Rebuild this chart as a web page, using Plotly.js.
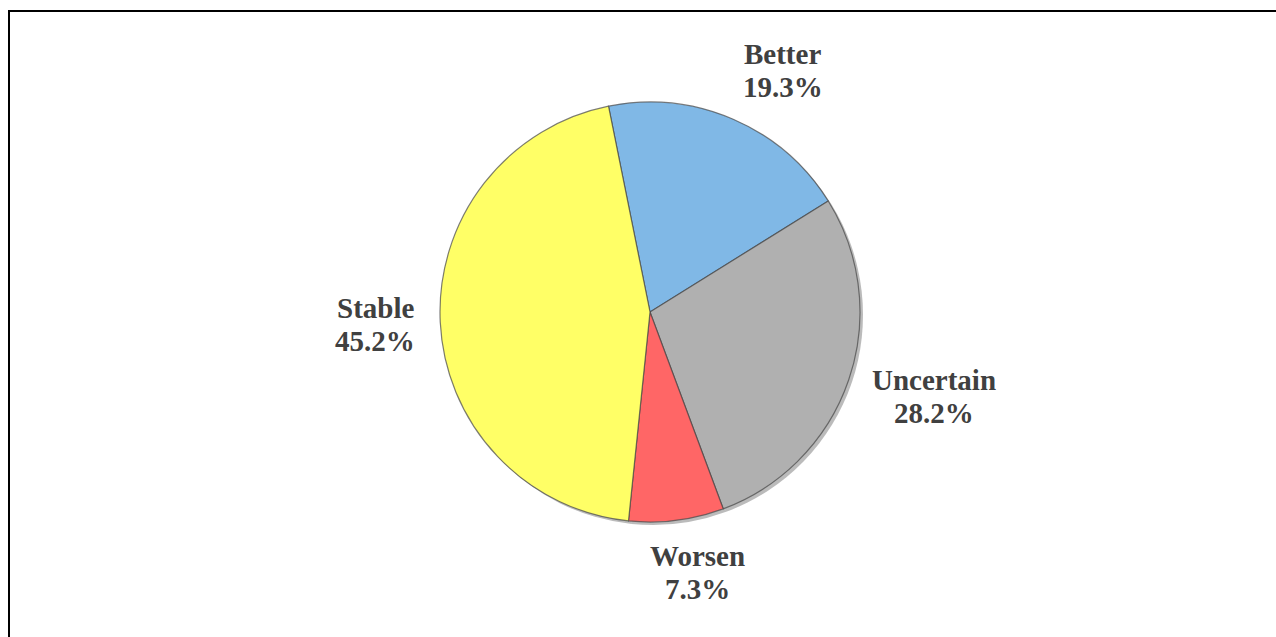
<!DOCTYPE html>
<html>
<head>
<meta charset="utf-8">
<script src="https://cdn.plot.ly/plotly-3.0.1.min.js"></script>
<style>
  html, body { margin: 0; padding: 0; background: #ffffff; overflow: hidden; }
  #wrap { position: relative; width: 1276px; height: 637px; }
  #chart { position: absolute; left: 0; top: 0; width: 1276px; height: 637px; }
  #frame { position: absolute; left: 8px; top: 10px; width: 1400px; height: 800px;
           border-left: 2px solid #000; border-top: 2px solid #000; pointer-events: none; }
</style>
</head>
<body>
<div id="wrap">
  <div id="chart"></div>
  <div id="frame"></div>
</div>
<script>
// Outlook shares (percent)
const categories = ['Better', 'Uncertain', 'Worsen', 'Stable'];
const shares = [19.3, 28.2, 7.3, 45.2];
const sliceColors = ['#80B8E6', '#B0B0B0', '#FF6666', '#FFFF66'];

// Layout geometry
const W = 1276, H = 637;
const margin = { l: 0, r: 0, t: 102, b: 112, pad: 0 };
const pieCenterX = 650, pieRadius = 210;
const shadowShift = 3;             // px offset of the drop shadow
const startAngle = -11.4;          // first slice begins just left of 12 o'clock
const labelFont = { family: 'Liberation Serif, Times New Roman, serif', size: 29, color: '#404040' };
const lineGap = 33;                // distance between the two lines of a label
const gapX = 25, gapY = 20;        // clearance between pie rim and label box

const plotW = W - margin.l - margin.r;
const plotH = H - margin.t - margin.b;
const domainX = [(pieCenterX - pieRadius - margin.l) / plotW, (pieCenterX + pieRadius - margin.l) / plotW];
const domainY = [shadowShift / plotH, 1];
const cx = margin.l + plotW * (domainX[0] + domainX[1]) / 2;
const cy = margin.t + plotH * (2 - domainY[0] - domainY[1]) / 2;
const radius = Math.min(plotW * (domainX[1] - domainX[0]), plotH * (domainY[1] - domainY[0])) / 2;

// Text metrics for placing the outside labels
const ctx = document.createElement('canvas').getContext('2d');
ctx.font = 'bold ' + labelFont.size + 'px ' + labelFont.family;

const toPaperX = px => (px - margin.l) / plotW;
const toPaperY = py => (H - margin.b - py) / plotH;

const total = shares.reduce((a, b) => a + b, 0);
let cum = 0;
const annotations = [];
categories.forEach((name, i) => {
  const pct = shares[i].toFixed(1) + '%';
  const mid = (startAngle + 360 * (cum + shares[i] / 2) / total) * Math.PI / 180;
  cum += shares[i];
  const s = Math.sin(mid), c = Math.cos(mid);
  const boxW = Math.max(ctx.measureText(name).width, ctx.measureText(pct).width);
  const boxH = 2 * lineGap;
  const fx = Math.max(-1, Math.min(1, 3 * s));
  const px = cx + (radius + gapX) * s + (boxW / 2) * fx;
  const py = cy - (radius + gapY) * c - (boxH / 2) * c;
  [[name, py - lineGap / 2], [pct, py + lineGap / 2]].forEach(([txt, y]) => {
    annotations.push({
      x: toPaperX(px), y: toPaperY(y),
      xref: 'paper', yref: 'paper',
      xanchor: 'center', yanchor: 'middle',
      showarrow: false,
      text: '<b>' + txt + '</b>',
      font: labelFont
    });
  });
});

// drop shadow under the pie, offset toward the lower right
const shadow = {
  type: 'pie',
  labels: categories,
  values: shares,
  sort: false,
  direction: 'clockwise',
  rotation: startAngle,
  textinfo: 'none',
  hoverinfo: 'skip',
  domain: {
    x: [domainX[0] + shadowShift / plotW, domainX[1] + shadowShift / plotW],
    y: [0, 1 - shadowShift / plotH]
  },
  marker: { colors: categories.map(() => 'rgba(60,60,60,0.35)'), line: { width: 0 } },
  showlegend: false
};

const trace = {
  type: 'pie',
  labels: categories,
  values: shares,
  sort: false,
  direction: 'clockwise',
  rotation: startAngle,
  textinfo: 'none',
  hoverinfo: 'label+percent',
  domain: { x: domainX, y: domainY },
  marker: {
    colors: sliceColors,
    line: { color: 'rgba(70,70,70,0.7)', width: 1.2 }
  },
  showlegend: false
};

const layout = {
  width: W,
  height: H,
  margin: margin,
  paper_bgcolor: '#ffffff',
  plot_bgcolor: '#ffffff',
  showlegend: false,
  annotations: annotations
};

Plotly.newPlot('chart', [shadow, trace], layout, { displayModeBar: false, staticPlot: true });
</script>
</body>
</html>
